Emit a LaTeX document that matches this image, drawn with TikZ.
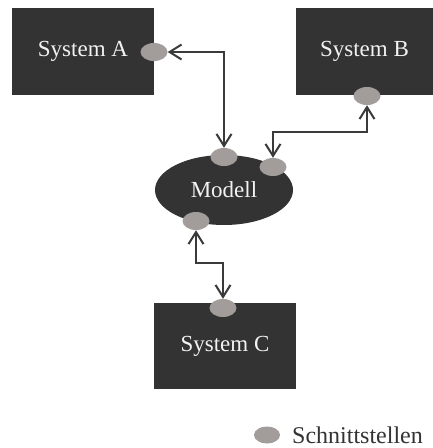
\documentclass[tikz,border=0pt]{standalone}
\usepackage{fontspec}
\setmainfont{Liberation Serif}
\usetikzlibrary{shapes.geometric,arrows.meta}
\definecolor{boxgray}{HTML}{333333}
\definecolor{portgray}{HTML}{A29D9B}
\definecolor{linegray}{HTML}{3A3A3A}
\begin{document}
\begin{tikzpicture}[x=1pt,y=-1pt,
  sysbox/.style={rectangle,fill=boxgray,text=white!95!black,inner sep=0pt,
    font=\fontsize{23}{27}\selectfont},
  port/.style={ellipse,fill=portgray,inner sep=0pt,minimum width=27pt,minimum height=18pt},
  link/.style={draw=linegray,line width=2pt,
    {Straight Barb[length=12pt,width=15pt,line width=2pt]}-{Straight Barb[length=12pt,width=15pt,line width=2pt]}}
]
\useasboundingbox (0,0) rectangle (433,448);

% systems
\node[sysbox,minimum width=142pt,minimum height=87pt] (sA) at (83,51.5) {System A};
\node[sysbox,minimum width=137pt,minimum height=87pt] (sB) at (364.5,51.5) {System B};
\node[sysbox,minimum width=142pt,minimum height=86pt] (sC) at (225,346) {System C};

% central model
\node[ellipse,fill=boxgray,text=white!95!black,inner sep=0pt,
  minimum width=138pt,minimum height=70pt,font=\fontsize{23}{27}\selectfont] (m) at (224,190) {Modell};

% interfaces
\node[port] (pA) at (154,52) {};
\node[port] (pB) at (367,96) {};
\node[port] (pM1) at (224,157) {};
\node[port] (pM2) at (273,167) {};
\node[port] (pM3) at (196,221) {};
\node[port] (pC) at (223,308) {};

% bend points
\coordinate (bB) at (273,132);
\coordinate (bC) at (223,263);

% connectors
\draw[link] (pA.east) -| (pM1.north);
\draw[link] (pB.south) |- (bB) -- (pM2.north);
\draw[link] (pM3.south) |- (bC) -- (pC.north);

% legend
\node[port,minimum width=26pt,minimum height=17pt] (leg) at (267,435) {};
\node[anchor=base west,inner sep=0pt,text=boxgray,font=\fontsize{24}{28}\selectfont] (legtxt) at (292,443) {Schnittstellen};
\end{tikzpicture}
\end{document}
